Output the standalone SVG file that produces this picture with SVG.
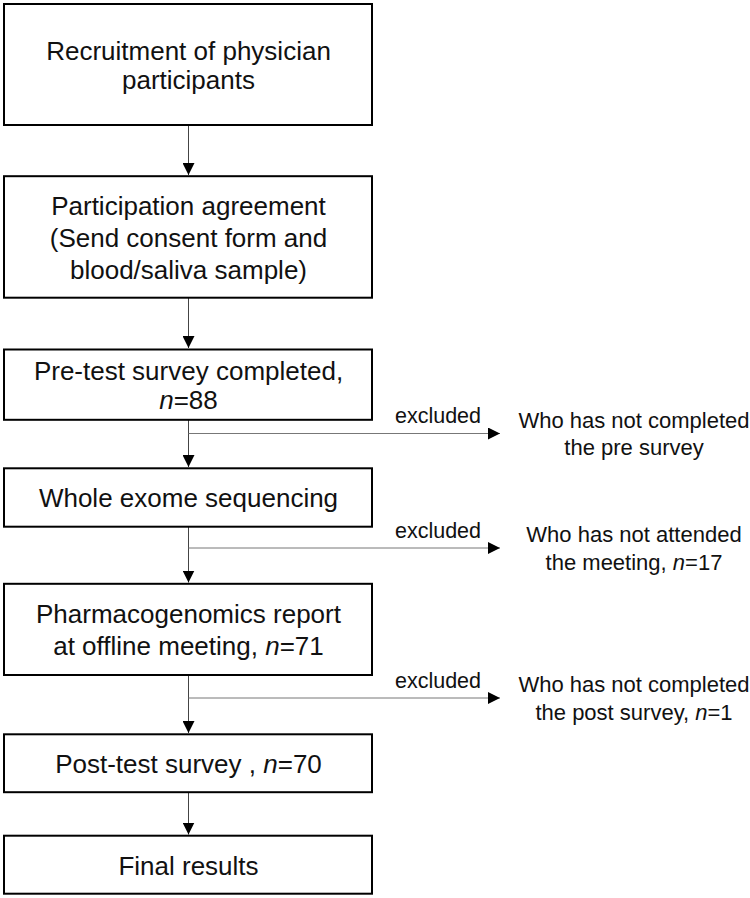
<svg xmlns="http://www.w3.org/2000/svg" width="750" height="898" viewBox="0 0 750 898">
<defs>
<marker id="ah" markerUnits="userSpaceOnUse" markerWidth="12" markerHeight="12" refX="12" refY="6" orient="auto" viewBox="0 0 12 12">
<path d="M0,0 L12,6 L0,12 Z" fill="#000"/>
</marker>
<style>
.box{fill:#fff;stroke:#000;stroke-width:2}
.t{font-family:"Liberation Sans",Arial,sans-serif;font-size:26px;fill:#111;text-anchor:middle}
.r{font-family:"Liberation Sans",Arial,sans-serif;font-size:22px;fill:#111;text-anchor:middle}
.ex{font-family:"Liberation Sans",Arial,sans-serif;font-size:21.5px;fill:#111;text-anchor:middle}
.v{stroke:#444;stroke-width:1;fill:none}
.h{stroke:#777;stroke-width:1;fill:none}
.i{font-style:italic}
</style>
</defs>
<rect width="750" height="898" fill="#fff"/>
<g id="connectors">
<line class="v" x1="188.5" y1="125" x2="188.5" y2="175" marker-end="url(#ah)"/>
<line class="v" x1="188.5" y1="298" x2="188.5" y2="348" marker-end="url(#ah)"/>
<line class="v" x1="188.5" y1="420" x2="188.5" y2="467" marker-end="url(#ah)"/>
<line class="v" x1="188.5" y1="527" x2="188.5" y2="582.5" marker-end="url(#ah)"/>
<line class="v" x1="188.5" y1="675" x2="188.5" y2="733" marker-end="url(#ah)"/>
<line class="v" x1="188.5" y1="792" x2="188.5" y2="834.5" marker-end="url(#ah)"/>
<line class="h" x1="188.5" y1="433.5" x2="500" y2="433.5" marker-end="url(#ah)"/>
<line class="h" x1="188.5" y1="548" x2="500" y2="548" marker-end="url(#ah)"/>
<line class="h" x1="188.5" y1="698" x2="500" y2="698" marker-end="url(#ah)"/>
<text class="ex" x="438" y="423">excluded</text>
<text class="ex" x="438" y="538">excluded</text>
<text class="ex" x="438" y="688">excluded</text>
</g>
<g id="n1">
<rect class="box" x="4" y="4" width="368" height="121"/>
<text class="t" x="188.5" y="59.5">Recruitment of physician</text>
<text class="t" x="188.5" y="89">participants</text>
</g>
<g id="n2">
<rect class="box" x="4" y="176.2" width="368" height="121.5"/>
<text class="t" x="188.5" y="215">Participation agreement</text>
<text class="t" x="188.5" y="247">(Send consent form and</text>
<text class="t" x="188.5" y="279">blood/saliva sample)</text>
</g>
<g id="n3">
<rect class="box" x="4" y="349.5" width="368" height="70.3"/>
<text class="t" x="188.5" y="379.5">Pre-test survey completed,</text>
<text class="t" x="188.5" y="408.5"><tspan class="i">n</tspan>=88</text>
</g>
<g id="n4">
<rect class="box" x="4" y="468.3" width="368" height="58.4"/>
<text class="t" x="188.5" y="507">Whole exome sequencing</text>
</g>
<g id="n5">
<rect class="box" x="4" y="583.8" width="368" height="91.2"/>
<text class="t" x="188.5" y="623">Pharmacogenomics report</text>
<text class="t" x="188.5" y="655">at offline meeting, <tspan class="i">n</tspan>=71</text>
</g>
<g id="n6">
<rect class="box" x="4" y="734.3" width="368" height="57.9"/>
<text class="t" x="188.5" y="773">Post-test survey , <tspan class="i">n</tspan>=70</text>
</g>
<g id="n7">
<rect class="box" x="4" y="835.7" width="368" height="58"/>
<text class="t" x="188.5" y="875">Final results</text>
</g>
<g id="e1">
<text class="r" x="634" y="428">Who has not completed</text>
<text class="r" x="634" y="455">the pre survey</text>
</g>
<g id="e2">
<text class="r" x="634" y="542">Who has not attended</text>
<text class="r" x="634" y="570">the meeting, <tspan class="i">n</tspan>=17</text>
</g>
<g id="e3">
<text class="r" x="634" y="692">Who has not completed</text>
<text class="r" x="634" y="720">the post survey, <tspan class="i">n</tspan>=1</text>
</g>
</svg>
